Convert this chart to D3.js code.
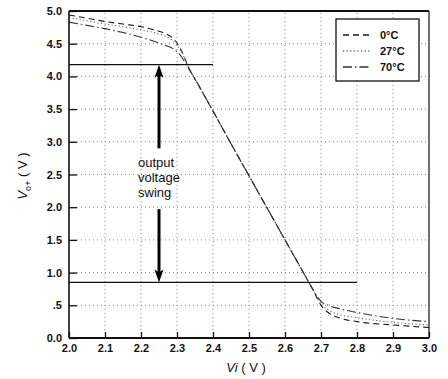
<!DOCTYPE html>
<html>
<head>
<meta charset="utf-8">
<script src="https://cdn.jsdelivr.net/npm/d3@7"></script>
<style>
  html, body { margin: 0; padding: 0; background: #fff; }
  svg { display: block; }
  text { font-family: "Liberation Sans", Arial, Helvetica, sans-serif; fill: #111; }
</style>
</head>
<body>
<svg id="chart" width="448" height="379"></svg>
<script>
// Input voltage samples (V) and output voltage (V) for each temperature
const vi0  = [2.00, 2.05, 2.10, 2.15, 2.20, 2.25, 2.27, 2.285, 2.30, 2.31, 2.32, 2.33, 2.35, 2.40, 2.45, 2.50, 2.55, 2.60, 2.65, 2.68, 2.69, 2.70, 2.72, 2.75, 2.80, 2.90, 3.00];
const vo0  = [4.94, 4.89, 4.84, 4.80, 4.76, 4.69, 4.65, 4.60, 4.51, 4.42, 4.30, 4.16, 3.96, 3.47, 2.97, 2.48, 1.99, 1.50, 1.01, 0.71, 0.60, 0.50, 0.39, 0.31, 0.25, 0.20, 0.16];

const vi27 = [2.00, 2.05, 2.10, 2.15, 2.20, 2.25, 2.27, 2.285, 2.30, 2.315, 2.33, 2.35, 2.40, 2.45, 2.50, 2.55, 2.60, 2.65, 2.68, 2.69, 2.70, 2.72, 2.75, 2.80, 2.90, 3.00];
const vo27 = [4.90, 4.85, 4.80, 4.76, 4.71, 4.65, 4.61, 4.56, 4.48, 4.35, 4.16, 3.96, 3.47, 2.97, 2.48, 1.99, 1.50, 1.01, 0.71, 0.61, 0.53, 0.43, 0.36, 0.31, 0.24, 0.20];

const vi70 = [2.00, 2.05, 2.10, 2.15, 2.20, 2.25, 2.27, 2.29, 2.31, 2.325, 2.34, 2.35, 2.40, 2.45, 2.50, 2.55, 2.60, 2.65, 2.68, 2.69, 2.70, 2.72, 2.75, 2.80, 2.90, 3.00];
const vo70 = [4.83, 4.78, 4.73, 4.67, 4.60, 4.51, 4.47, 4.42, 4.32, 4.19, 4.05, 3.96, 3.47, 2.97, 2.48, 1.99, 1.50, 1.01, 0.72, 0.63, 0.56, 0.50, 0.45, 0.39, 0.30, 0.25];

const seriesNames = ["0°C", "27°C", "70°C"];
const xTicks = [2.0, 2.1, 2.2, 2.3, 2.4, 2.5, 2.6, 2.7, 2.8, 2.9, 3.0];
const yTicks = [0, 0.5, 1.0, 1.5, 2.0, 2.5, 3.0, 3.5, 4.0, 4.5, 5.0];
const yTickLabels = ["0.0", ".5", "1.0", "1.5", "2.0", "2.5", "3.0", "3.5", "4.0", "4.5", "5.0"];

// Swing markers: high and low output levels, arrow position and arrow tails
const swingHigh = 4.18, swingLow = 0.85;
const swingHighEnd = 2.4, swingLowEnd = 2.8;
const arrowVi = 2.25, arrowTailUp = 2.90, arrowTailDown = 1.97;
const swingText = ["output", "voltage", "swing"];

const styles = [
  { dash: "6,4",          color: "#1a1a1a", width: 1.1 },
  { dash: "1.2,2.4",      color: "#666",    width: 1.1 },
  { dash: "9,3,1.5,3",    color: "#333",    width: 1.1 }
];

const svg = d3.select("#chart");
const x = d3.scaleLinear().domain([2.0, 3.0]).range([69, 429]);
const y = d3.scaleLinear().domain([0, 5]).range([338, 11]);

// dotted grid
const grid = svg.append("g").attr("stroke", "#8a8a8a").attr("stroke-width", 1).attr("stroke-dasharray", "1,3");
grid.selectAll("line.vx").data(xTicks.slice(1, -1)).join("line")
  .attr("x1", d => x(d)).attr("x2", d => x(d)).attr("y1", y(0)).attr("y2", y(5));
grid.selectAll("line.hy").data(yTicks.slice(1, -1)).join("line")
  .attr("x1", x(2)).attr("x2", x(3)).attr("y1", d => y(d)).attr("y2", d => y(d));

// axes
const xAxis = d3.axisBottom(x).tickValues(xTicks).tickFormat(d3.format(".1f"))
  .tickSizeInner(-6).tickSizeOuter(0).tickPadding(6);
const gx = svg.append("g").attr("transform", `translate(0,${y(0)})`).call(xAxis);
const yAxis = d3.axisLeft(y).tickValues(yTicks).tickFormat((d, i) => yTickLabels[i])
  .tickSizeInner(-8).tickSizeOuter(0).tickPadding(7);
const gy = svg.append("g").attr("transform", `translate(${x(2)},0)`).call(yAxis);
[gx, gy].forEach(g => {
  g.selectAll("text").attr("font-size", 11).attr("font-weight", "bold")
    .attr("font-family", "'Liberation Sans', Arial, sans-serif").attr("fill", "#111");
  g.selectAll("line").attr("stroke", "#111").attr("stroke-width", 1.3);
  g.select(".domain").remove();
});

// curves
const line = d3.line().x(d => x(d[0])).y(d => y(d[1])).curve(d3.curveMonotoneX);
const series = [
  d3.zip(vi0, vo0),
  d3.zip(vi27, vo27),
  d3.zip(vi70, vo70)
];
svg.append("g").selectAll("path").data(series).join("path")
  .attr("d", line).attr("fill", "none")
  .attr("stroke", (d, i) => styles[i].color)
  .attr("stroke-width", (d, i) => styles[i].width)
  .attr("stroke-dasharray", (d, i) => styles[i].dash);

// frame
svg.append("line").attr("x1", x(2)).attr("x2", x(3)).attr("y1", y(5)).attr("y2", y(5)).attr("stroke", "#111").attr("stroke-width", 2);
svg.append("line").attr("x1", x(2)).attr("x2", x(3)).attr("y1", y(0)).attr("y2", y(0)).attr("stroke", "#111").attr("stroke-width", 1.8);
svg.append("line").attr("x1", x(2)).attr("x2", x(2)).attr("y1", y(0)).attr("y2", y(5)).attr("stroke", "#111").attr("stroke-width", 1.6);
svg.append("line").attr("x1", x(3)).attr("x2", x(3)).attr("y1", y(0)).attr("y2", y(5)).attr("stroke", "#111").attr("stroke-width", 1.2);

// swing level lines
svg.append("line").attr("x1", x(2)).attr("x2", x(swingHighEnd)).attr("y1", y(swingHigh)).attr("y2", y(swingHigh))
  .attr("stroke", "#111").attr("stroke-width", 1.3);
svg.append("line").attr("x1", x(2)).attr("x2", x(swingLowEnd)).attr("y1", y(swingLow)).attr("y2", y(swingLow))
  .attr("stroke", "#111").attr("stroke-width", 1.3);

// arrows
function arrow(xv, fromV, toV) {
  const ax = x(xv), y0 = y(fromV), y1 = y(toV);
  const dir = Math.sign(y1 - y0);
  const headLen = 13, headW = 4.5;
  svg.append("line").attr("x1", ax).attr("x2", ax).attr("y1", y0).attr("y2", y1 - dir * headLen * 0.6)
    .attr("stroke", "#000").attr("stroke-width", 3);
  const base = y1 - dir * headLen;
  svg.append("path")
    .attr("d", `M${ax},${y1} L${ax - headW},${base} L${ax},${base + dir * 3} L${ax + headW},${base} Z`)
    .attr("fill", "#000");
}
arrow(arrowVi, arrowTailUp, swingHigh);
arrow(arrowVi, arrowTailDown, swingLow);

// annotation text
svg.append("text").attr("x", 138).attr("y", 167).attr("font-size", 13)
  .selectAll("tspan").data(swingText).join("tspan")
  .attr("x", 138).attr("dy", (d, i) => i === 0 ? 0 : 15).text(d => d);

// axis titles
const xt = svg.append("text").attr("x", 246).attr("y", 372).attr("text-anchor", "middle").attr("font-size", 13);
xt.append("tspan").attr("font-style", "italic").text("Vi");
xt.append("tspan").text(" ( V )");

const yt = svg.append("text").attr("transform", "translate(27,176) rotate(-90)").attr("text-anchor", "middle").attr("font-size", 13);
yt.append("tspan").attr("font-style", "italic").text("V");
yt.append("tspan").attr("font-size", 9).attr("dy", 4).text("o+");
yt.append("tspan").attr("dy", -4).text(" ( V )");

// legend
const lg = svg.append("g");
lg.append("rect").attr("x", 336).attr("y", 19).attr("width", 83).attr("height", 62)
  .attr("fill", "#fff").attr("stroke", "#111").attr("stroke-width", 1.3);
const rowsY = [35, 51, 67];
seriesNames.forEach((name, i) => {
  lg.append("line").attr("x1", 343).attr("x2", 371).attr("y1", rowsY[i]).attr("y2", rowsY[i])
    .attr("stroke", styles[i].color).attr("stroke-width", 1.4).attr("stroke-dasharray", styles[i].dash);
  lg.append("text").attr("x", 380).attr("y", rowsY[i] + 4).attr("font-size", 11).attr("font-weight", "bold").text(name);
});
</script>
</body>
</html>
